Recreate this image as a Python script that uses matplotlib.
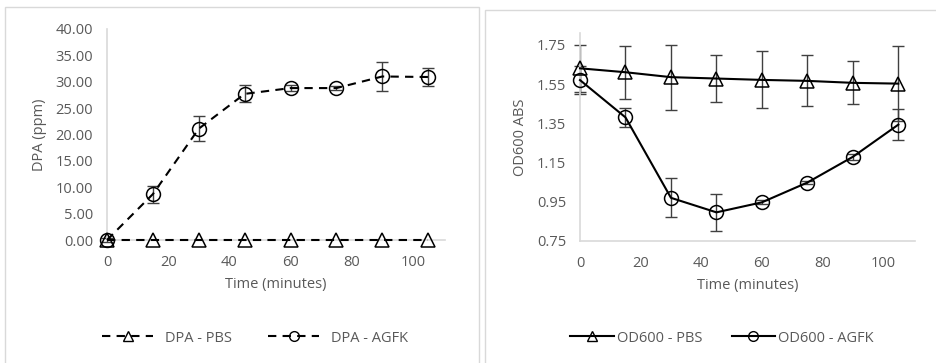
import matplotlib.pyplot as plt
from matplotlib.patches import Rectangle
from matplotlib.lines import Line2D

# time points (minutes)
time = [0, 15, 30, 45, 60, 75, 90, 105]

# DPA release (ppm)
dpa_pbs = [0, 0, 0, 0, 0, 0, 0, 0]
dpa_agfk = [0, 8.7, 21.1, 27.7, 28.8, 28.8, 31.0, 30.9]
dpa_agfk_err = [0.3, 1.6, 2.4, 1.6, 0.5, 0.3, 2.8, 1.7]

# OD600 absorbance
od_pbs = [1.63, 1.61, 1.585, 1.578, 1.571, 1.566, 1.556, 1.552]
od_pbs_err = [0.12, 0.135, 0.165, 0.12, 0.145, 0.13, 0.11, 0.19]
od_agfk = [1.57, 1.38, 0.97, 0.896, 0.947, 1.048, 1.179, 1.343]
od_agfk_err = [0.07, 0.05, 0.10, 0.095, 0.01, 0.01, 0.015, 0.078]

plt.rcParams['font.family'] = ['Open Sans', 'DejaVu Sans']
grey = '#595959'
axis_grey = '#d9d9d9'
fs = 10.5

fig = plt.figure(figsize=(9.36, 3.63), dpi=100)

# panel borders
fig.patches.append(Rectangle((5 / 936, -0.05), 474 / 936, 1.05 - 7 / 363, transform=fig.transFigure,
                             fill=False, edgecolor=axis_grey, linewidth=1))
fig.patches.append(Rectangle((485 / 936, -0.05), 0.6, 1.05 - 10 / 363, transform=fig.transFigure,
                             fill=False, edgecolor=axis_grey, linewidth=1))

ax1 = fig.add_axes([107 / 936, 1 - 240 / 363, 338 / 936, 211 / 363])
ax2 = fig.add_axes([580 / 936, 1 - 241 / 363, 335 / 936, 208 / 363])

mk = dict(markersize=10, markerfacecolor='none', markeredgecolor='black', markeredgewidth=1.1)

# left: DPA
ax1.errorbar(time, dpa_agfk, yerr=dpa_agfk_err, fmt='none', ecolor='#404040', elinewidth=1, capsize=4,
             clip_on=False, zorder=2)
ax1.plot(time, dpa_pbs, linestyle=(0, (4, 3)), color='black', lw=1.5, marker='^', clip_on=False, zorder=3, **mk)
ax1.plot(time, dpa_agfk, linestyle=(0, (4, 3)), color='black', lw=1.5, marker='o', clip_on=False, zorder=3, **mk)
ax1.set_xlim(0, 110.5)
ax1.set_ylim(0, 40)
ax1.set_yticks(range(0, 41, 5))
ax1.set_yticklabels([f'{v:.2f}' for v in range(0, 41, 5)])
ax1.set_ylabel('DPA (ppm)', color=grey, fontsize=fs, labelpad=6)

# right: OD600
ax2.errorbar(time, od_pbs, yerr=od_pbs_err, fmt='none', ecolor='#404040', elinewidth=1, capsize=4,
             clip_on=False, zorder=2)
ax2.errorbar(time, od_agfk, yerr=od_agfk_err, fmt='none', ecolor='#404040', elinewidth=1, capsize=4,
             clip_on=False, zorder=2)
ax2.plot(time, od_pbs, '-', color='black', lw=1.5, marker='^', clip_on=False, zorder=3, **mk)
ax2.plot(time, od_agfk, '-', color='black', lw=1.5, marker='o', clip_on=False, zorder=3, **mk)
ax2.set_xlim(0, 110.5)
ax2.set_ylim(0.75, 1.81)
ax2.set_yticks([0.75, 0.95, 1.15, 1.35, 1.55, 1.75])
ax2.set_yticklabels(['0.75', '0.95', '1.15', '1.35', '1.55', '1.75'])
ax2.set_ylabel('OD600 ABS', color=grey, fontsize=fs, labelpad=6)

for ax in (ax1, ax2):
    ax.set_xticks(range(0, 101, 20))
    ax.set_xlabel('Time (minutes)', color=grey, fontsize=fs, labelpad=5)
    for s in ('top', 'right'):
        ax.spines[s].set_visible(False)
    for s in ('left', 'bottom'):
        ax.spines[s].set_color(axis_grey)
        ax.spines[s].set_linewidth(1.2)
    ax.tick_params(axis='y', length=0, colors=grey, labelsize=fs, pad=10)
    ax.tick_params(axis='x', length=0, colors=grey, labelsize=fs, pad=11)

h1 = [Line2D([], [], linestyle=(0, (4, 3)), color='black', lw=1.5, marker='^', markersize=7,
             markerfacecolor='none', markeredgecolor='black'),
      Line2D([], [], linestyle=(0, (4, 3)), color='black', lw=1.5, marker='o', markersize=7,
             markerfacecolor='none', markeredgecolor='black')]
fig.legend(h1, ['DPA - PBS', 'DPA - AGFK'], loc='center', bbox_to_anchor=(255 / 936, 1 - 338 / 363),
           ncol=2, frameon=False, fontsize=fs, labelcolor=grey, handlelength=3.5, columnspacing=2.5)

h2 = [Line2D([], [], color='black', lw=1.5, marker='^', markersize=7,
             markerfacecolor='none', markeredgecolor='black'),
      Line2D([], [], color='black', lw=1.5, marker='o', markersize=7,
             markerfacecolor='none', markeredgecolor='black')]
fig.legend(h2, ['OD600 - PBS', 'OD600 - AGFK'], loc='center', bbox_to_anchor=(722 / 936, 1 - 338 / 363),
           ncol=2, frameon=False, fontsize=fs, labelcolor=grey, handlelength=3.0, columnspacing=2.0,
           handletextpad=0.2)

fig.savefig('out.png', dpi=100)
